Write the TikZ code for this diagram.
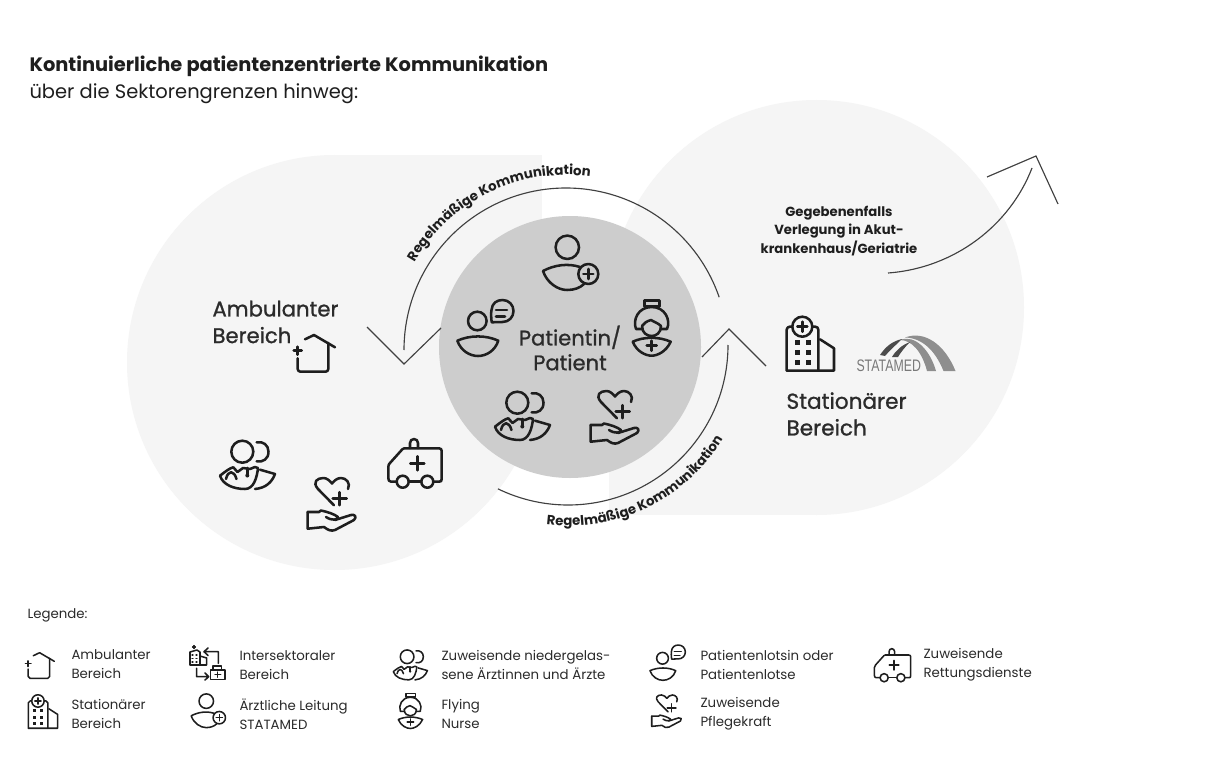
\documentclass[tikz,border=0pt]{standalone}
\usepackage{fontspec}
\usepackage{graphicx}
\setmainfont{Poppins}
\newfontfamily\logofont{Liberation Sans}
\usetikzlibrary{decorations.text}
\definecolor{bgl}{HTML}{F5F5F5}
\definecolor{core}{HTML}{CDCDCD}
\definecolor{ink}{HTML}{1E1E1E}
\definecolor{txt}{HTML}{2B2B2B}
\definecolor{lg}{HTML}{8E8E8E}
\tikzset{
 ic/.style={draw=ink,line width=1.9pt,line cap=round,line join=round,fill=none},
 thin arc/.style={draw=ink!85,line width=0.85pt},
 lab/.style={font=\fontsize{10}{14.2}\selectfont,text=txt,align=left,anchor=west,inner sep=0pt},
 big/.style={font=\fontsize{15.9}{20}\selectfont\addfontfeature{FakeBold=1},text=txt,align=left,anchor=west,inner sep=0pt},
 house/.pic={
  \draw[ic] (-11,-16.7)--(-2,-21)--(19,-8.7);
  \draw[ic] (12.3,-13)--(12.3,13) arc(0:90:2.7) --(-15.6,15.7) arc(90:180:2.7) -- (-18.3,2.3);
  \draw[ic] (-22.3,-5.3)--(-14.3,-5.3) (-18.3,-9.3)--(-18.3,-1.3);
 },
 leader/.pic={
  \draw[ic] (-0.7,-27.7) circle (11.7);
  \draw[ic] (12,-8) .. controls (0,-12) and (-14,-10) .. (-25,-4) .. controls (-21,8) and (-10,15) .. (-1,15) .. controls (6,15) and (12,13) .. (16,9);
  \draw[ic] (20.3,-1) circle (10);
  \draw[ic] (15.3,-1)--(25.3,-1) (20.3,-6)--(20.3,4);
 },
 lotse/.pic={
  \draw[ic] (-8.7,-8) circle (9.3);
  \draw[ic] (-28.7,11.7) .. controls (-16,6) and (0,6) .. (12.3,11.7) .. controls (9,22) and (0,27) .. (-8,27) .. controls (-16,27) and (-25,22) .. (-28.7,11.7);
  \draw[ic] (5.7,-6.7) .. controls (5,-12) and (5,-16) .. (5.5,-19) .. controls (6,-26) and (11,-29) .. (16.5,-29) .. controls (23,-29) and (27.5,-24) .. (27.5,-18) .. controls (27.5,-12) and (23,-7) .. (16.5,-7) -- cycle;
  \draw[ic] (10,-19)--(21,-19) (10,-12.5)--(19,-12.5);
 },
 nurse/.pic={
  \draw[ic] (-18.3,7.7) .. controls (-7,2.5) and (8,2.5) .. (19.7,7.7) .. controls (15,18) and (6,21.7) .. (0.7,21.7) .. controls (-5,21.7) and (-14,18) .. (-18.3,7.7);
  \draw[ic] (-4.3,11.7)--(5.7,11.7) (0.7,6.7)--(0.7,16.7);
  \draw[ic] (-6.5,-33.3)--(8.5,-33.3)--(8.5,-27.3)--(-6.5,-27.3)--cycle;
  \draw[ic] (-8.5,-5) -- (-15,-5) .. controls (-18.5,-14) and (-13,-27) .. (0.7,-27) .. controls (14,-27) and (20,-14) .. (16,-5) -- (10,-5);
  \draw[ic] (-9,-8) .. controls (-9,-1) and (-4,2) .. (0.7,2) .. controls (5,2) and (10,-1) .. (10,-8);
  \draw[ic] (-9,-8) .. controls (-7,-11) and (-4,-13) .. (0,-14) .. controls (3,-12) and (7,-11) .. (10,-8);
 },
 doctors/.pic={
  \draw[ic] (-3.7,-13.3) circle (11);
  \draw[ic] (10.7,-22.7) .. controls (17,-24) and (22.5,-20) .. (22.5,-13.3) .. controls (22.5,-6) and (17,-2.5) .. (10.7,-3.7);
  \draw[ic] (-26,10.7) .. controls (-20,6) and (-16,3) .. (-12.7,2.3) -- (-8.5,7) -- (-3,3) -- (4,4) -- (9,2) -- (12,3) .. controls (11,12) and (8,24) .. (-1,24) .. controls (-12,24) and (-23,20) .. (-26,10.7);
  \draw[ic] (-20,14) .. controls (-18,5) and (-12,5) .. (-9.5,14);
  \draw[ic] (1.3,3)--(1.3,10);
  \fill[ink] (1.3,10.5) circle (2);
  \draw[ic] (14,4.7) -- (29,9) .. controls (26,17) and (20,23) .. (9,24);
 },
 hearthand/.pic={
  \draw[ic] (3,0.3) -- (-13,-16) .. controls (-19,-23) and (-14,-27) .. (-7.5,-27) .. controls (-4,-27) and (-1,-24) .. (1,-21.5) .. controls (3,-24) and (6,-27) .. (10,-27) .. controls (15,-27) and (20,-22) .. (17,-16);
  \draw[ic] (8.7,-12.8)--(8.7,0.2) (1.7,-6.3)--(15.7,-6.3);
  \draw[ic] (-23.3,7) -- (-23.3,23.7) -- (-7,22) .. controls (-3,25) and (0,26.5) .. (4,25) -- (23,15) .. controls (26,12) and (24,9) .. (20,10) -- (4,15);
  \draw[ic] (-23.3,7) -- (-12,7) -- (-10,5.5) .. controls (-3,7) and (3,9) .. (7,12) .. controls (7,15) and (1,16) .. (-5,12);
 },
 ambulance/.pic={
  \draw[ic] (-18.3,18.7) -- (-24,18.7) .. controls (-26,18.7) and (-26.7,17) .. (-26.7,15) -- (-26.7,4) .. controls (-26.7,2) and (-26,1) .. (-25,0) -- (-12.7,-13.7) .. controls (-12,-14.4) and (-11.5,-14.7) .. (-10.7,-14.7) -- (24,-14.7) .. controls (26,-14.7) and (26.7,-13.5) .. (26.7,-12) -- (26.7,16) .. controls (26.7,18) and (26,18.7) .. (24,18.7) -- (18.3,18.7);
  \draw[ic] (-6.3,18.7)--(6.3,18.7);
  \draw[ic] (-12.3,18.7) circle (6) (12.3,18.7) circle (6);
  \draw[ic] (-5,-15)--(-5,-20) arc(180:360:4) -- (3,-15);
  \draw[ic] (2.3,-6.7)--(2.3,7.3) (-4.7,0.3)--(9.3,0.3);
 },
 hospital/.pic={
  \draw[ic] (-16.7,-17.3) -- (-19.3,-17.3) arc (270:180:3) -- (-22.3,26.7) -- (25,26.7) -- (25,4.3) -- (11,-4.7);
  \draw[ic] (3.3,-17.3) -- (6.3,-17.3) arc (270:360:3) -- (9.3,26.7);
  \draw[ic] (-6.7,-17.3) circle (10);
  \draw[ic] (-11.7,-17.3)--(-1.7,-17.3) (-6.7,-22.3)--(-6.7,-12.3);
  \foreach \y in {-1.3,8.7,18.3}{\fill[ink] (-14.2,\y-2.5) rectangle ++(5,5); \fill[ink] (-3.2,\y-2.5) rectangle ++(5,5);}
 },
 inter/.pic={
  \draw[ic] (-18,0)--(-18,-13)--(-11,-15)--(-8,-13)--(-8,0)--cycle;
  \draw[ic] (-8,-9)--(-1.3,-7)--(-1.3,0)--(-8,0);
  \draw[ic,line width=.8pt] (-16,-10)--(-15,-10) (-12,-10)--(-11,-10) (-16,-6.5)--(-15,-6.5) (-12,-6.5)--(-11,-6.5) (-16,-3)--(-15,-3) (-12,-3)--(-11,-3);
  \draw[ic,line width=.8pt] (-15.5,-18)--(-12.5,-18) (-14,-19.5)--(-14,-16.5);
  \draw[ic] (10.3,-1.7)--(10.3,-13.3)--(-4,-13.3) (0,-17)--(-4,-13.3)--(0,-9.5);
  \draw[ic] (-11.3,3.3)--(-11.3,11.7)--(0.7,11.7) (-3,8)--(0.7,11.7)--(-3,15);
  \draw[ic] (2.7,5)--(17,5)--(17,14.3)--(2.7,14.3)--cycle;
  \draw[ic] (5,5)--(5,1)--(13.7,1)--(13.7,5);
  \draw[ic,line width=.8pt] (6.8,9.6)--(12.8,9.6) (9.8,6.8)--(9.8,12.4);
 },
}
\begin{document}
\begin{tikzpicture}[x=0.75pt,y=-0.75pt,line width=0.75pt]
\useasboundingbox (0,0) rectangle (1220,763);
\fill[white] (0,0) rectangle (1220,763);
% background shapes
\fill[bgl] (334.5,362.5) circle (207.5);
\fill[bgl] (334.5,155) rectangle (542,362.5);
\fill[bgl] (816.5,307.5) circle (207.5);
\fill[bgl] (609,307.5) rectangle (816.5,515);
\fill[core] (570,347) circle (131);
% arcs
\draw[thin arc] (404,350) arc (180:341:162);
\draw[thin arc] (728,345) arc (0:116:160);
\coordinate (la) at (367,327); \coordinate (lb) at (404,364); \coordinate (lc) at (441,328);
\draw[thin arc] (la)--(lb)--(lc);
\coordinate (ra) at (702,357); \coordinate (rb) at (729,329); \coordinate (rc) at (766,366);
\draw[thin arc] (ra)--(rb)--(rc);
\draw[thin arc] (888,273) .. controls (955,268) and (1010,225) .. (1032,168);
\coordinate (ua) at (987,177); \coordinate (ub) at (1036,156); \coordinate (uc) at (1058,204);
\draw[thin arc] (ua)--(ub)--(uc);
% arc texts
\path[postaction={decorate},decoration={text along path,text align=center,text={|\fontsize{10}{10}\selectfont\bfseries\color{ink}|Regelmäßige Kommunikation}}]
 (407.4,276) arc (205:283:175);
\path[postaction={decorate},decoration={text along path,text align=center,text={|\fontsize{10}{10}\selectfont\bfseries\color{ink}|Regelmäßige Kommunikation}}]
 (536.6,523.2) arc (100:28:181);
% headings
\node[anchor=west,inner sep=0pt,font=\fontsize{14.55}{18}\selectfont\bfseries,text=ink] (t1) at (29,66) {Kontinuierliche patientenzentrierte Kommunikation};
\node[anchor=west,inner sep=0pt,font=\fontsize{14.6}{18}\selectfont,text=ink] (t2) at (29,94) {über die Sektorengrenzen hinweg:};
\node[big] (amb) at (212,322) {Ambulanter\\Bereich};
\node[big,font=\fontsize{16.2}{20}\selectfont\addfontfeature{FakeBold=1}] (stat) at (786,414) {Stationärer\\Bereich};
\node[font=\fontsize{15.8}{18.6}\selectfont\addfontfeature{FakeBold=1},text=txt,align=center,inner sep=0pt] (pat) at (570,348) {Patientin/\\Patient};
\node[font=\fontsize{9.9}{13.9}\selectfont\bfseries,text=ink,align=center,inner sep=0pt] (geg) at (839,231) {Gegebenenfalls\\Verlegung in Akut-\\krankenhaus/Geriatrie};
% main icons
\pic at (316,356) {house};
\pic at (568,275) {leader};
\pic at (486,329) {lotse};
\pic at (651,334) {nurse};
\pic at (521,416) {doctors};
\pic at (614,418) {hearthand};
\pic at (246,465) {doctors};
\pic at (331,505) {hearthand};
\pic at (415,463) {ambulance};
\pic at (809,344) {hospital};
% logo
\fill[lg] (905,337.5) .. controls (925,330) and (945,345) .. (955.5,371) -- (943.5,371) .. controls (935,350) and (922,338) .. (905,337.5);
\fill[lg] (900,340) .. controls (915,334) and (930,350) .. (936,371) -- (927,371) .. controls (922,352) and (912,340) .. (900,340);
\fill[ink!80] (880,355) .. controls (886,346) and (893,341) .. (902,339) .. controls (896,345) and (890,350) .. (885,356) -- cycle;
\fill[ink!80] (892,357) .. controls (896,350) and (902,345) .. (910,342) .. controls (905,347) and (901,352) .. (898,357) -- cycle;
\node[inner sep=0pt,anchor=base west,font=\logofont\fontsize{12.5}{12}\selectfont,text=lg!85!black] (logo) at (856,371) {\scalebox{.74}[1]{STATAMED}};
% legend
\node[anchor=west,inner sep=0pt,font=\fontsize{10}{10}\selectfont,text=txt] (leg) at (27,615) {Legende:};
\begin{scope}
\tikzset{ic/.append style={line width=1.15pt}}
\pic[scale=.7] at (41,667.4) {house};
\pic[scale=.62] at (42.1,711.7) {hospital};
\pic at (208,665) {inter};
\pic[scale=.62] at (206.7,718.3) {leader};
\pic[scale=.62] at (409.4,665) {doctors};
\pic[scale=.64] at (410,714.6) {nurse};
\pic[scale=.63] at (668,663.3) {lotse};
\pic[scale=.62] at (666.2,711.7) {hearthand};
\pic[scale=.68] at (892.5,665) {ambulance};
\end{scope}
\node[lab] (l1) at (71,664) {Ambulanter\\Bereich};
\node[lab] (l2) at (71,714) {Stationärer\\Bereich};
\node[lab] (l3) at (239,665) {Intersektoraler\\Bereich};
\node[lab] (l4) at (239,714) {Ärztliche Leitung\\STATAMED};
\node[lab] (l5) at (441,665) {Zuweisende niedergelas-\\sene Ärztinnen und Ärzte};
\node[lab] (l6) at (441,714) {Flying\\Nurse};
\node[lab] (l7) at (700,665) {Patientenlotsin oder\\Patientenlotse};
\node[lab] (l8) at (700,714) {Zuweisende\\Pflegekraft};
\node[lab] (l9) at (923,665) {Zuweisende\\Rettungsdienste};
\end{tikzpicture}
\end{document}
